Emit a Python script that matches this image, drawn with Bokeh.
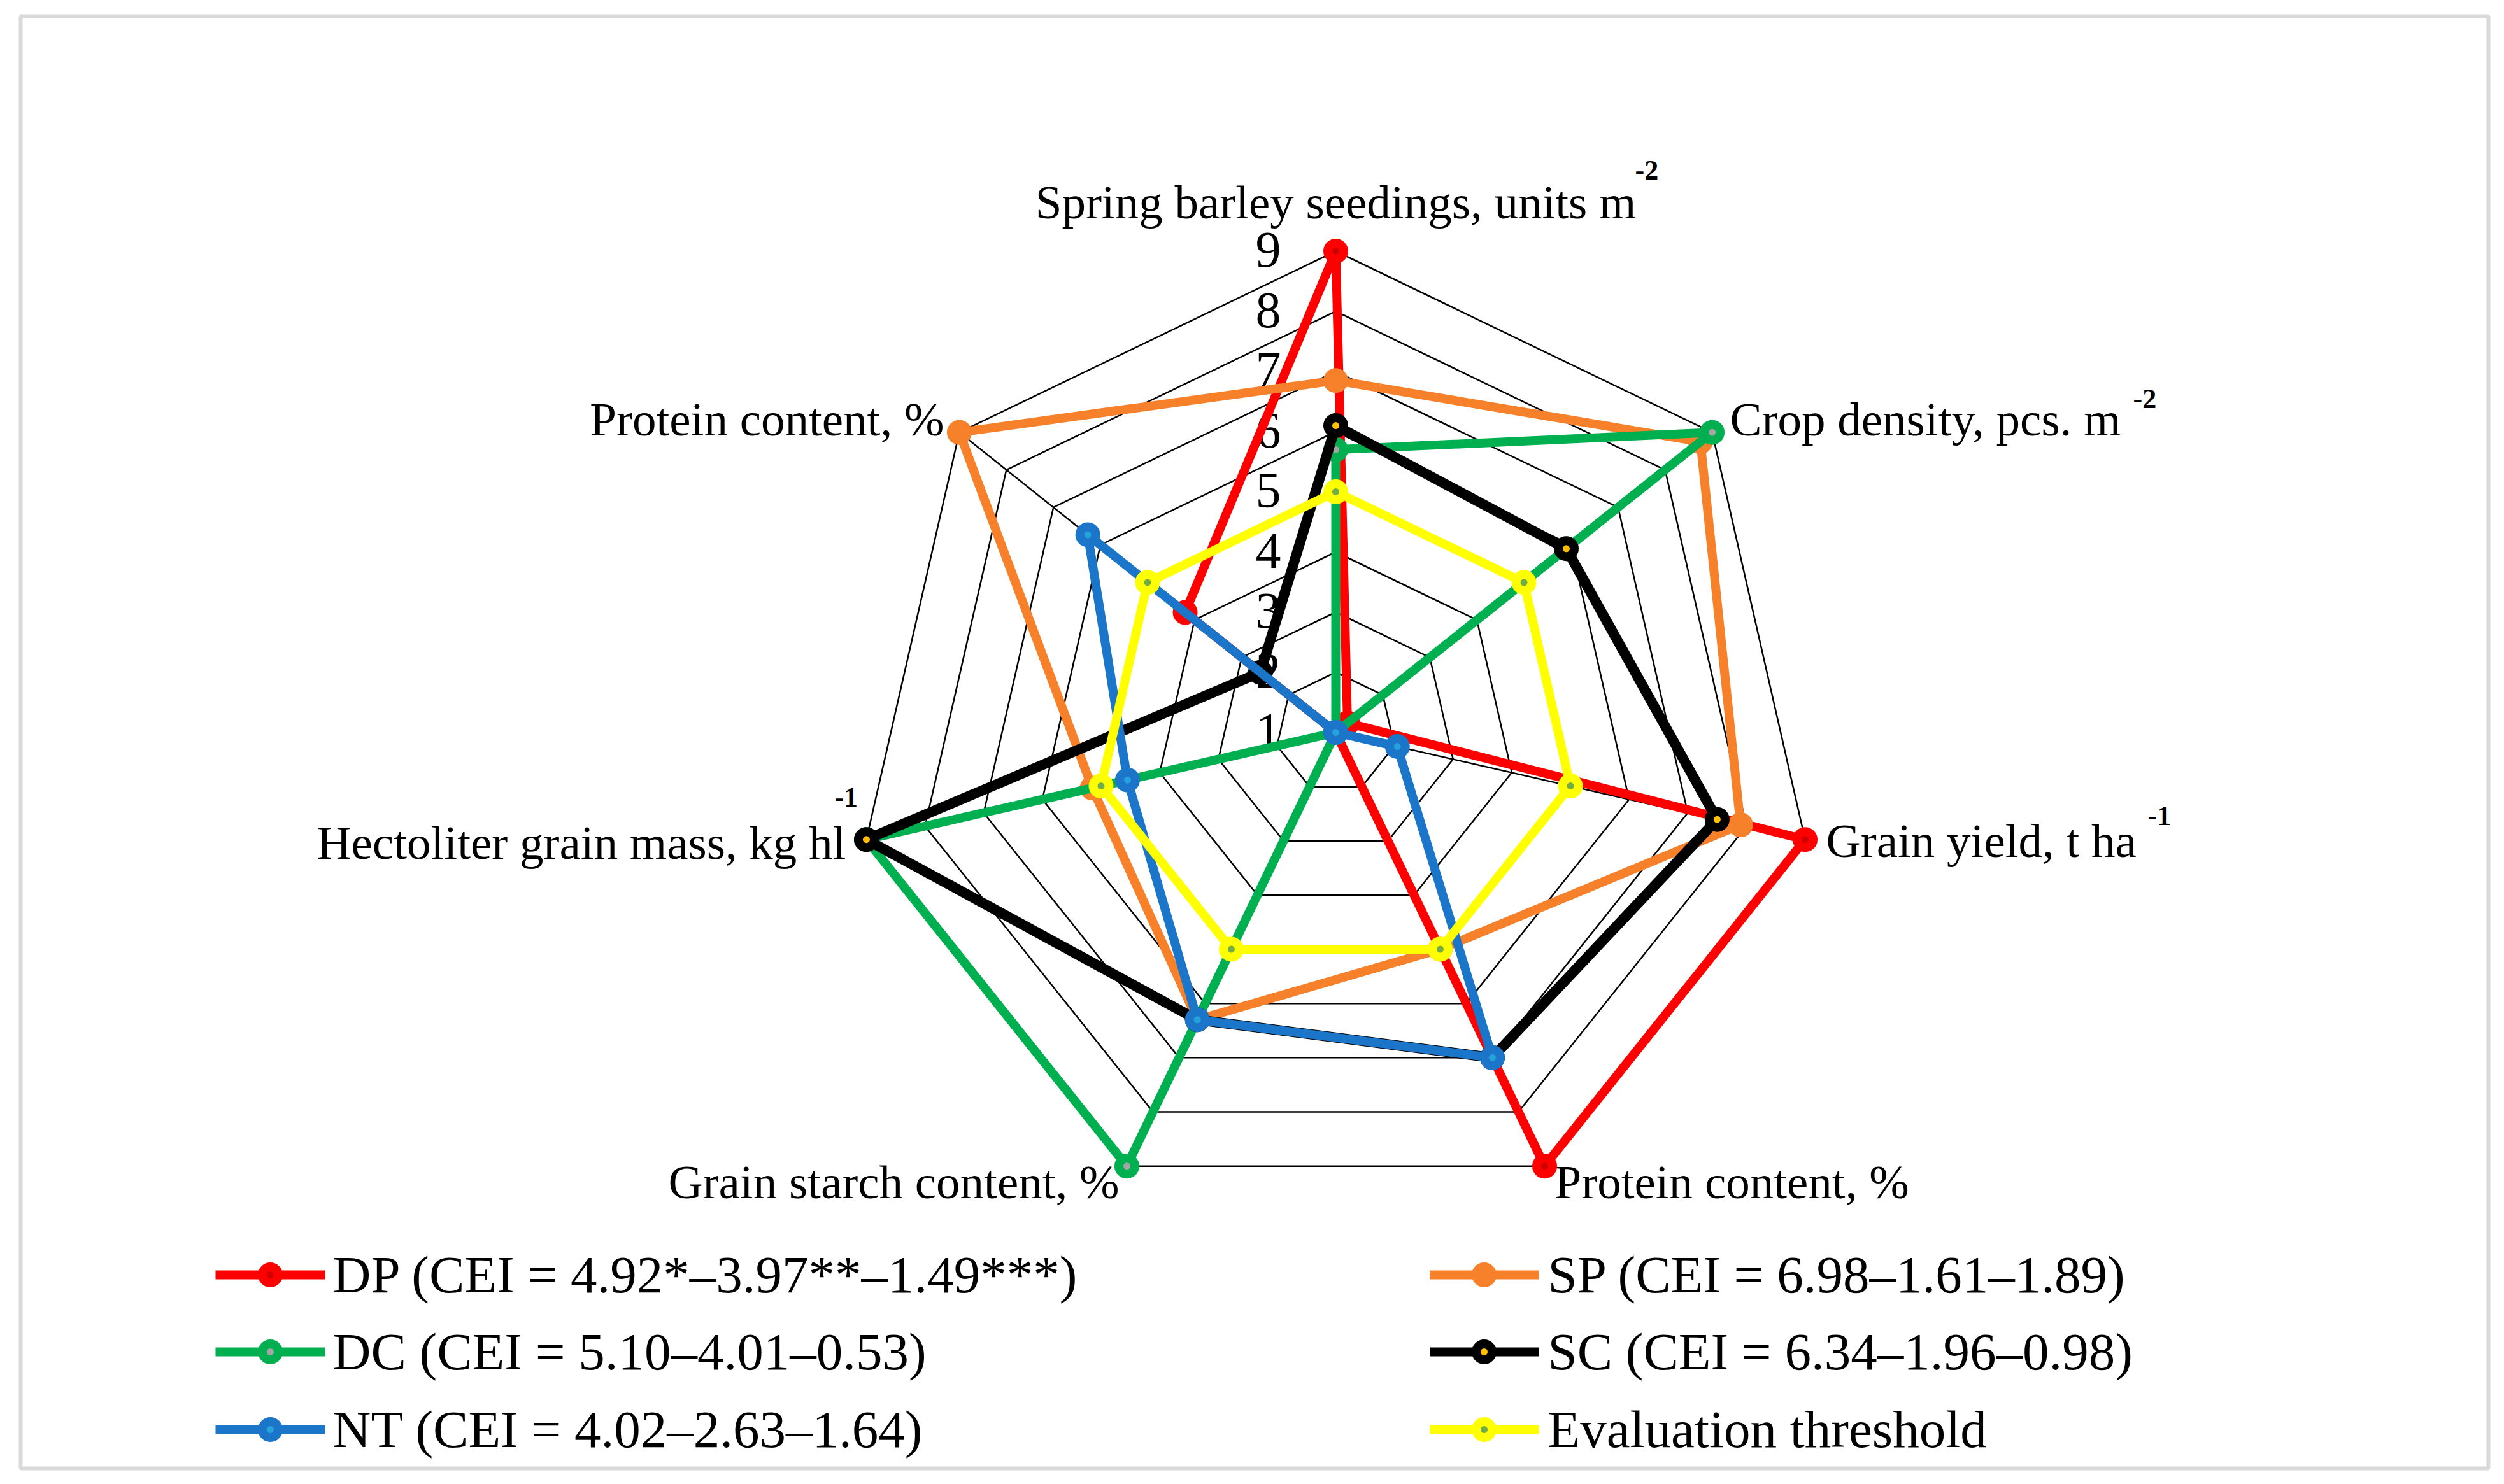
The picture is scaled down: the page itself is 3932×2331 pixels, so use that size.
import numpy as np
from bokeh.plotting import figure
from bokeh.models import Range1d
from bokeh.embed import file_html
from bokeh.resources import INLINE
from bokeh.core.properties import value

# ---------------- data ----------------
axis_labels = ["Spring barley seedings, units m", "Crop density, pcs. m", "Grain yield, t ha",
               "Protein content, %", "Grain starch content, %", "Hectoliter grain mass, kg hl",
               "Protein content, %"]
axis_sups = ["-2", "-2", "-1", "", "", "-1", ""]
tick_values = [1, 2, 3, 4, 5, 6, 7, 8, 9]
tick_labels = ["1", "2", "3", "4", "5", "6", "7", "8", "9"]

series_names = ["DP (CEI = 4.92*\u20133.97**\u20131.49***)", "SP (CEI = 6.98\u20131.61\u20131.89)",
                "DC (CEI = 5.10\u20134.01\u20130.53)", "SC (CEI = 6.34\u20131.96\u20130.98)",
                "NT (CEI = 4.02\u20132.63\u20131.64)", "Evaluation threshold"]
DP = [9.0, 1.25, 9.0, 9.0, 1.0, 1.0, 4.2]
SP = [6.85, 8.75, 7.9, 5.0, 6.3, 5.15, 9.0]
DC = [5.7, 9.0, 1.0, 1.0, 9.0, 9.0, 1.0]
SC = [6.1, 5.9, 7.5, 7.0, 6.3, 9.0, 2.6]
NT = [1.0, 1.0, 2.05, 7.0, 6.3, 4.55, 6.27]
ET = [5.0, 5.0, 5.0, 5.0, 5.0, 5.0, 5.0]
series_values = [DP, SP, DC, SC, NT, ET]

# ---------------- styles / layout ----------------
line_colors = ["#FF0000", "#F7802B", "#00B050", "#000000", "#1B75C9", "#FFFF00"]
inner_colors = ["#D00000", "#F7802B", "#A5A5A5", "#FFC000", "#25A2DC", "#70AD47"]
FONT = value("Liberation Serif")
BASE_FIX = 0.36  # text baseline correction (fraction of font size)

CX, CY = 2097.0, 1150.0
UNIT = 94.5
VMIN, VMAX = 1.0, 9.0
N = len(axis_labels)
phi = np.arange(N) * 2 * np.pi / N


def polar(vals):
    v = np.asarray(vals, dtype=float) - VMIN
    return CX + v * UNIT * np.sin(phi), CY - v * UNIT * np.cos(phi)


def put_text(xs, ys, texts, fs, align, style="normal"):
    ys = np.asarray(ys, dtype=float) - BASE_FIX * fs
    p.text(x=list(xs), y=list(ys), text=list(texts), text_font=FONT,
           text_font_size=f"{fs}px", text_align=align, text_baseline="alphabetic",
           text_color="black", text_font_style=style)


W, H = 3916, 2315
p = figure(width=W, height=H, x_range=Range1d(0, W), y_range=Range1d(H, 0),
           x_axis_type=None, y_axis_type=None, toolbar_location=None,
           output_backend="svg", min_border=0, outline_line_color=None,
           background_fill_color="white", border_fill_color="white")

# outer frame
p.quad(left=[32], right=[3907], top=[25], bottom=[2306], fill_color=None,
       line_color="#D9D9D9", line_width=6)

# grid rings
for t in tick_values[1:]:
    gx, gy = polar([t] * N)
    p.line(list(gx) + [gx[0]], list(gy) + [gy[0]], line_color="black", line_width=2.5)
# spokes
vx, vy = polar([VMAX] * N)
p.segment(x0=[CX] * N, y0=[CY] * N, x1=vx, y1=vy, line_color="black", line_width=2.5)

# tick labels
ty = CY - (np.array(tick_values) - VMIN) * UNIT + 27
put_text([CX - 86] * len(tick_values), ty, tick_labels, 80, "right")

# axis labels
lab_dx = [0, 28, 33, 16, -12, -32, -24]
lab_dy = [-50, 6, 29, 52, 52, 32, 6]
lab_al = ["center", "left", "left", "left", "right", "right", "right"]
for k in range(N):
    put_text([vx[k] + lab_dx[k]], [vy[k] + lab_dy[k]], [axis_labels[k]], 75, lab_al[k])
sup_dx = [470, 661, 538, 0, 0, -50, 0]
sup_dy = [-111, -37, -21, 0, 0, -50, 0]
for k in range(N):
    if axis_sups[k]:
        put_text([vx[k] + sup_dx[k]], [vy[k] + sup_dy[k]], [axis_sups[k]], 44, "left", "bold")

# series
for vals, lc, ic in zip(series_values, line_colors, inner_colors):
    sx, sy = polar(vals)
    lw = 16 if lc == "#000000" else 14
    p.line(list(sx) + [sx[0]], list(sy) + [sy[0]], line_color=lc, line_width=lw,
           line_join="round", line_cap="round")
    p.scatter(sx, sy, marker="circle", size=25, fill_color=ic, line_color=lc, line_width=14)

# legend
leg_rows = [2002, 2123, 2245]
leg_cols = [(338, 510, 424, 522), (2245, 2416, 2330, 2430)]
for i, (name, lc, ic) in enumerate(zip(series_names, line_colors, inner_colors)):
    col = leg_cols[i % 2]
    row = leg_rows[i // 2]
    p.line([col[0], col[1]], [row, row], line_color=lc, line_width=14)
    p.scatter([col[2]], [row], marker="circle", size=25, fill_color=ic, line_color=lc,
              line_width=14)
    put_text([col[3]], [row + 29], [name], 83, "left")

open("out.html", "w").write(file_html(p, INLINE))
